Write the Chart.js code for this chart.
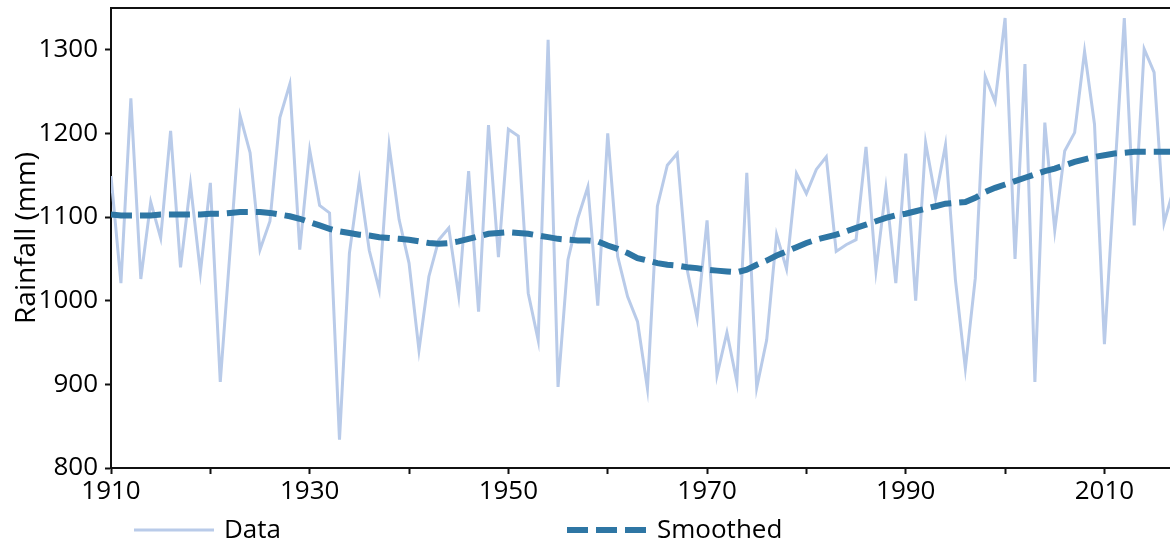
<!DOCTYPE html>
<html>
<head>
<meta charset="utf-8">
<title>Rainfall</title>
<script src="https://cdn.jsdelivr.net/npm/chart.js@4.4.1/dist/chart.umd.min.js"></script>
<style>
  html, body { margin: 0; padding: 0; background: #fff; }
  canvas { display: block; }
</style>
</head>
<body>
<canvas id="rainChart" width="1170" height="547"></canvas>
<script>
const years = [];
for (let y = 1910; y <= 2017; y++) {
  years.push(y);
}

// yearly rainfall, 1910..2017
const rainfall = [
  1149, 1021, 1242, 1026, 1118, 1075, 1203, 1040, 1139, 1034,
  1141, 903, 1062, 1221, 1177, 1061, 1095, 1219, 1259, 1061,
  1180, 1114, 1105, 834, 1057, 1144, 1060, 1013, 1185, 1097,
  1045, 941, 1029, 1073, 1087, 1006, 1155, 987, 1210, 1052,
  1205, 1197, 1009, 953, 1312, 897, 1049, 1099, 1136, 994,
  1200, 1053, 1005, 975, 895, 1113, 1162, 1176, 1037, 979,
  1096, 911, 962, 903, 1153, 896, 953, 1079, 1038, 1152,
  1128, 1157, 1172, 1059, 1067, 1073, 1184, 1036, 1134, 1021,
  1176, 1000, 1189, 1123, 1186, 1025, 919, 1027, 1268, 1238,
  1338, 1050, 1283, 903, 1213, 1084, 1179, 1201, 1298, 1211,
  948, 1144, 1338, 1090, 1301, 1273, 1093, 1135
];

const smoothed = [
  1103, 1102, 1102, 1102, 1102, 1103, 1103, 1103, 1103, 1103,
  1104, 1104, 1105, 1106, 1106, 1106, 1105, 1103, 1101, 1098,
  1094, 1090, 1086, 1083, 1081, 1079, 1078, 1076, 1075, 1074,
  1073, 1071, 1069, 1068, 1069, 1071, 1074, 1077, 1080, 1081,
  1082, 1081, 1080, 1078, 1076, 1074, 1073, 1072, 1072, 1071,
  1066, 1062, 1057, 1051, 1048, 1045, 1043, 1042, 1040, 1039,
  1037, 1036, 1035, 1034, 1037, 1043, 1048, 1054, 1059, 1064,
  1069, 1073, 1076, 1079, 1083, 1087, 1091, 1095, 1099, 1102,
  1104, 1107, 1110, 1113, 1116, 1117, 1118, 1123, 1130, 1135,
  1139, 1143, 1147, 1151, 1155, 1158, 1162, 1166, 1169, 1172,
  1174, 1176, 1177, 1178, 1178, 1178, 1178, 1178
];

const xTicks = [1910, 1920, 1930, 1940, 1950, 1960, 1970, 1980, 1990, 2000, 2010];
const xLabels = ['1910', '', '1930', '', '1950', '', '1970', '', '1990', '', '2010'];
const yTicks = [800, 900, 1000, 1100, 1200, 1300];

const fontName = "'Open Sans', 'Noto Sans', sans-serif";
const dataColor = '#b9cbe9';
const smoothColor = '#2e76a4';

function toPoints(values) {
  return values.map((v, i) => ({ x: years[i], y: v }));
}

// matplotlib-style legend under the axes, plus the top spine
const extras = {
  id: 'extras',
  afterDraw(chart) {
    const ctx = chart.ctx;
    const area = chart.chartArea;
    ctx.save();
    ctx.strokeStyle = '#111';
    ctx.lineWidth = 2;
    ctx.beginPath();
    ctx.moveTo(area.left, area.top);
    ctx.lineTo(area.right, area.top);
    ctx.stroke();

    let items = [
      { x: 134, text: 'Data', ds: chart.data.datasets[0] },
      { x: 567, text: 'Smoothed', ds: chart.data.datasets[1] }
    ];
    let y = 530;
    ctx.font = '26px ' + fontName;
    ctx.textBaseline = 'middle';
    ctx.fillStyle = '#000';
    items.forEach(item => {
      ctx.strokeStyle = item.ds.borderColor;
      ctx.lineWidth = item.ds.borderWidth;
      ctx.setLineDash(item.ds.borderDash || []);
      ctx.beginPath();
      ctx.moveTo(item.x, y);
      ctx.lineTo(item.x + 80, y);
      ctx.stroke();
      ctx.setLineDash([]);
      ctx.fillText(item.text, item.x + 90, y + 1);
    });
    ctx.restore();
  }
};

const config = {
  type: 'line',
  data: {
    datasets: [{
      label: 'Data',
      data: toPoints(rainfall),
      borderColor: dataColor,
      borderWidth: 3,
      pointRadius: 0,
      tension: 0,
      clip: 0,
      order: 2
    },
    {
      label: 'Smoothed',
      data: toPoints(smoothed),
      borderColor: smoothColor,
      borderWidth: 6,
      borderDash: [21, 8],
      pointRadius: 0,
      tension: 0,
      clip: 0,
      order: 1
    }]
  },
  options: {
    responsive: false,
    animation: false,
    devicePixelRatio: 1,
    layout: {
      padding: { top: 8, right: 0, bottom: 34, left: 0 }
    },
    plugins: {
      legend: { display: false },
      tooltip: { enabled: false }
    },
    scales: {
      x: {
        type: 'linear',
        min: 1910,
        max: 2016.6,
        afterBuildTicks: scale => {
          scale.ticks = xTicks.map(v => ({ value: v }));
        },
        afterFit: scale => {
          scale.height = 45;
          scale.paddingLeft = 0;
          scale.paddingRight = 0;
        },
        ticks: {
          autoSkip: false,
          maxRotation: 0,
          padding: 2,
          color: '#000',
          font: { family: fontName, size: 26 },
          callback: (value) => xLabels[xTicks.indexOf(value)]
        },
        grid: {
          drawOnChartArea: false,
          tickLength: 6,
          tickWidth: 2,
          tickColor: '#111'
        },
        border: { color: '#111', width: 2 }
      },
      y: {
        min: 800,
        max: 1350,
        afterBuildTicks: scale => {
          scale.ticks = yTicks.map(v => ({ value: v }));
        },
        afterFit: scale => {
          scale.width = 111;
          scale.paddingTop = 0;
          scale.paddingBottom = 0;
        },
        title: {
          display: true,
          text: 'Rainfall (mm)',
          color: '#000',
          padding: { top: 10, bottom: 0 },
          font: { family: fontName, size: 28 }
        },
        ticks: {
          padding: 7,
          color: '#000',
          font: { family: fontName, size: 26 },
          callback: (value) => String(value)
        },
        grid: {
          drawOnChartArea: false,
          tickLength: 6,
          tickWidth: 2,
          tickColor: '#111'
        },
        border: { color: '#111', width: 2 }
      }
    }
  },
  plugins: [extras]
};

let canvasChart = document.getElementById('rainChart');
const rainChart = new Chart(canvasChart, config);
</script>
</body>
</html>
